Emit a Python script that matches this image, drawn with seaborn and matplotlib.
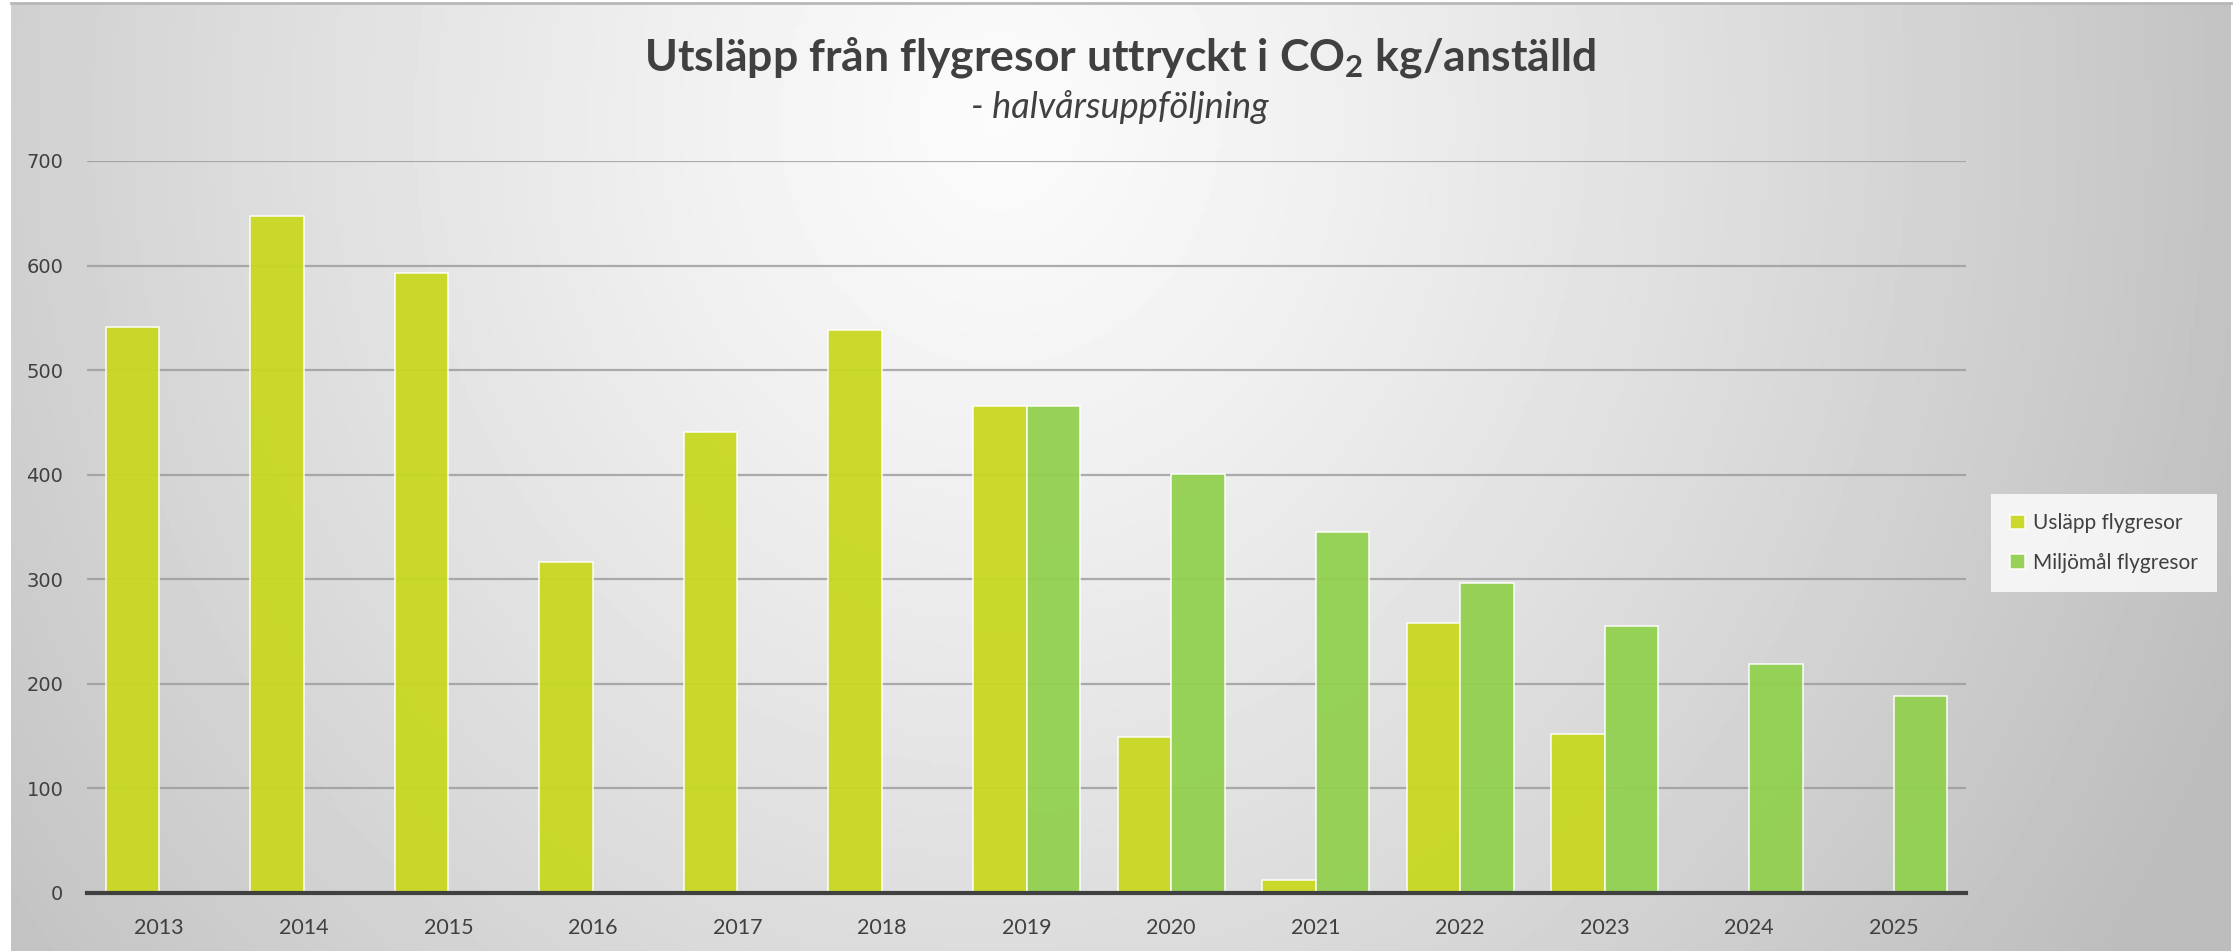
import matplotlib

matplotlib.use("Agg")
import matplotlib.pyplot as plt
import numpy as np
import pandas as pd
import seaborn as sns

YEARS = ["2013", "2014", "2015", "2016", "2017", "2018", "2019",
         "2020", "2021", "2022", "2023", "2024", "2025"]
USLAPP = [541, 647, 593, 317, 441, 538, 466, 149, 12, 258, 152, np.nan, np.nan]
MILJOMAL = [np.nan, np.nan, np.nan, np.nan, np.nan, np.nan, 466, 401, 345, 296, 255, 219, 188]
SERIES = ["Usläpp flygresor", "Miljömål flygresor"]
COLORS = ["#C8D820", "#92D050"]
YTICKS = [0, 100, 200, 300, 400, 500, 600, 700]

TITLE = "Utsläpp från flygresor uttryckt i CO$\\mathregular{_2}$ kg/anställd"
SUBTITLE = "- halvårsuppföljning"

W, H = 2234, 951
DARK = "#404040"

sns.set_theme(style="white")
plt.rcParams["font.family"] = ["Lato", "DejaVu Sans"]

df = pd.DataFrame({"år": YEARS, SERIES[0]: USLAPP, SERIES[1]: MILJOMAL})
long = df.melt(id_vars="år", var_name="serie", value_name="kg").dropna()

fig = plt.figure(figsize=(W / 100, H / 100), dpi=100)
fig.patch.set_facecolor("white")

# soft radial background like the Excel chart area
bg = fig.add_axes([11 / W, 0, (2231 - 11) / W, 948 / H], zorder=-10)
xx, yy = np.meshgrid(np.linspace(11, 2231, 600), np.linspace(3, 951, 300))
u = np.sqrt(((xx - 1000) / 1230) ** 2 + ((yy - 120) / 1360) ** 2)
shade = np.clip(0.985 - 0.22 * u ** 1.2, 0.74, 1)
bg.imshow(shade, cmap="gray", vmin=0, vmax=1, aspect="auto", extent=[0, 1, 0, 1], origin="upper")
bg.set_xticks([]), bg.set_yticks([])
for side, sp in bg.spines.items():
    sp.set_visible(side == "top")
    sp.set_color("#b8b8b8")
    sp.set_linewidth(2)

ax = fig.add_axes([87 / W, 1 - 893 / H, (1966 - 87) / W, (893 - 161) / H])
ax.patch.set_alpha(0)
sns.barplot(long, x="år", y="kg", hue="serie", order=YEARS, hue_order=SERIES,
            palette=COLORS, width=0.74, errorbar=None, ax=ax, zorder=3,
            edgecolor=(1, 1, 1, 0.6), linewidth=1.1, alpha=0.95, saturation=1)

ax.set_ylim(0, 700)
ax.set_yticks(YTICKS)
ax.set_yticklabels([str(v) for v in YTICKS], family="DejaVu Sans", fontsize=14, color=DARK)
ax.set_xticks(range(len(YEARS)))
ax.set_xticklabels(YEARS, fontsize=15.5, color=DARK)
ax.tick_params(axis="y", length=0, pad=17)
ax.tick_params(axis="x", length=0, pad=18)
ax.set_xlabel("")
ax.set_ylabel("")
ax.grid(axis="y", color="#9a9a9a", linewidth=1.6, alpha=0.8, zorder=1)
ax.set_axisbelow(True)
for side in ["left", "right", "top"]:
    ax.spines[side].set_visible(False)
ax.spines["bottom"].set_color(DARK)
ax.spines["bottom"].set_linewidth(3)
ax.spines["bottom"].set_zorder(5)

handles, labels = ax.get_legend_handles_labels()
leg = ax.legend(handles, labels, loc="center", bbox_to_anchor=(2104 / W, 1 - 543 / H),
                bbox_transform=fig.transFigure, fontsize=15, frameon=True, fancybox=False,
                handlelength=0.7, handleheight=0.7, handletextpad=0.4, labelspacing=0.95,
                borderpad=0.9, borderaxespad=0, labelcolor=DARK)
leg.get_frame().set_facecolor((1, 1, 1, 0.15))
leg.get_frame().set_edgecolor("none")

fig.text(1120 / W, 1 - 57 / H, TITLE, ha="center", va="center", fontsize=32,
         fontweight="bold", color=DARK)
fig.text(1120 / W, 1 - 107 / H, SUBTITLE, ha="center", va="center", fontsize=26,
         style="italic", color=DARK)

fig.savefig("out.png", dpi=100)
